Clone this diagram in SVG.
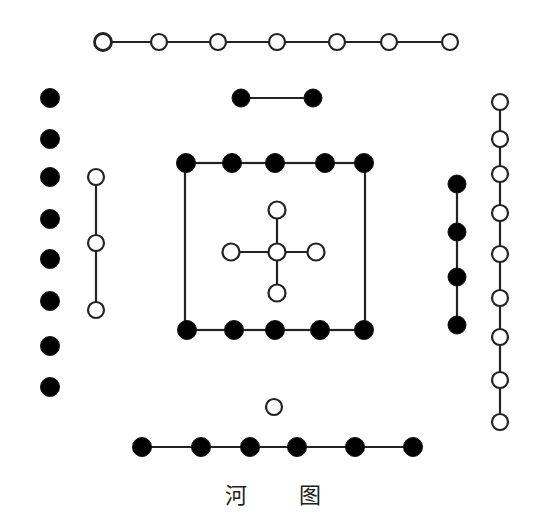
<svg xmlns="http://www.w3.org/2000/svg" width="558" height="532" viewBox="0 0 558 532">
<style>
.ln{stroke:#222;stroke-width:2.2;fill:none}
.w{fill:#fff;stroke:#222;stroke-width:2.2}
.b{fill:#000;stroke:#111;stroke-width:1}
.t{font-family:"Noto Sans CJK SC","Liberation Serif",serif;font-size:22px;fill:#222}
</style>
<rect width="558" height="532" fill="#fff"/>
<g id="connectors">
<line class="ln" x1="103" y1="42" x2="450" y2="42"/>
<line class="ln" x1="241" y1="98" x2="313" y2="98"/>
<line class="ln" x1="96" y1="177" x2="96" y2="310"/>
<line class="ln" x1="457" y1="184" x2="457" y2="325"/>
<line class="ln" x1="500" y1="102" x2="500" y2="422"/>
<rect class="ln" x="185" y="163" width="180" height="167"/>
<line class="ln" x1="231" y1="252" x2="316" y2="252"/>
<line class="ln" x1="277" y1="210" x2="277" y2="293"/>
<line class="ln" x1="142" y1="447" x2="413" y2="447"/>
</g>
<g id="top-white">
<circle class="w" cx="103" cy="42" r="8.5" style="stroke-width:2.8"/>
<circle class="w" cx="159" cy="42" r="8"/>
<circle class="w" cx="218" cy="42" r="8"/>
<circle class="w" cx="277" cy="42" r="8"/>
<circle class="w" cx="337" cy="42" r="8"/>
<circle class="w" cx="389" cy="42" r="8"/>
<circle class="w" cx="450" cy="42" r="8"/>
</g>
<g id="top-black">
<circle class="b" cx="241" cy="98" r="9"/>
<circle class="b" cx="313" cy="98" r="9"/>
</g>
<g id="left-black">
<circle class="b" cx="50" cy="98" r="9.5"/>
<circle class="b" cx="50" cy="139" r="9.5"/>
<circle class="b" cx="50" cy="177" r="9.5"/>
<circle class="b" cx="50" cy="219" r="9.5"/>
<circle class="b" cx="50" cy="259" r="9.5"/>
<circle class="b" cx="50" cy="301" r="9.5"/>
<circle class="b" cx="50" cy="346" r="9.5"/>
<circle class="b" cx="50" cy="387" r="9.5"/>
</g>
<g id="left-white">
<circle class="w" cx="96" cy="177" r="8"/>
<circle class="w" cx="96" cy="243" r="8"/>
<circle class="w" cx="96" cy="310" r="8"/>
</g>
<g id="right-black">
<circle class="b" cx="457" cy="184" r="9"/>
<circle class="b" cx="457" cy="232" r="9"/>
<circle class="b" cx="457" cy="277" r="9"/>
<circle class="b" cx="457" cy="325" r="9"/>
</g>
<g id="right-white">
<circle class="w" cx="500" cy="102" r="8"/>
<circle class="w" cx="500" cy="139" r="8"/>
<circle class="w" cx="500" cy="174" r="8"/>
<circle class="w" cx="500" cy="213" r="8"/>
<circle class="w" cx="500" cy="254" r="8"/>
<circle class="w" cx="500" cy="298" r="8"/>
<circle class="w" cx="500" cy="337" r="8"/>
<circle class="w" cx="500" cy="380" r="8"/>
<circle class="w" cx="500" cy="422" r="8"/>
</g>
<g id="square-top">
<circle class="b" cx="186" cy="163" r="9.5"/>
<circle class="b" cx="232" cy="163" r="9.5"/>
<circle class="b" cx="275" cy="163" r="9.5"/>
<circle class="b" cx="325" cy="163" r="9.5"/>
<circle class="b" cx="364" cy="163" r="9.5"/>
</g>
<g id="square-bottom">
<circle class="b" cx="187" cy="330" r="9.5"/>
<circle class="b" cx="234" cy="330" r="9.5"/>
<circle class="b" cx="275" cy="330" r="9.5"/>
<circle class="b" cx="320" cy="330" r="9.5"/>
<circle class="b" cx="364" cy="330" r="9.5"/>
</g>
<g id="center">
<circle class="w" cx="277" cy="210" r="8.5"/>
<circle class="w" cx="231" cy="252" r="8.5"/>
<circle class="w" cx="277" cy="252" r="8.5"/>
<circle class="w" cx="316" cy="252" r="8.5"/>
<circle class="w" cx="277" cy="293" r="8.5"/>
</g>
<g id="bottom-white">
<circle class="w" cx="274" cy="407" r="8"/>
</g>
<g id="bottom-black">
<circle class="b" cx="142" cy="447" r="9.5"/>
<circle class="b" cx="201" cy="447" r="9.5"/>
<circle class="b" cx="250" cy="447" r="9.5"/>
<circle class="b" cx="297" cy="447" r="9.5"/>
<circle class="b" cx="355" cy="447" r="9.5"/>
<circle class="b" cx="413" cy="447" r="9.5"/>
</g>
<g id="title">
<text class="t" x="236" y="503" text-anchor="middle">河</text>
<text class="t" x="310" y="503" text-anchor="middle">图</text>
</g>
</svg>
